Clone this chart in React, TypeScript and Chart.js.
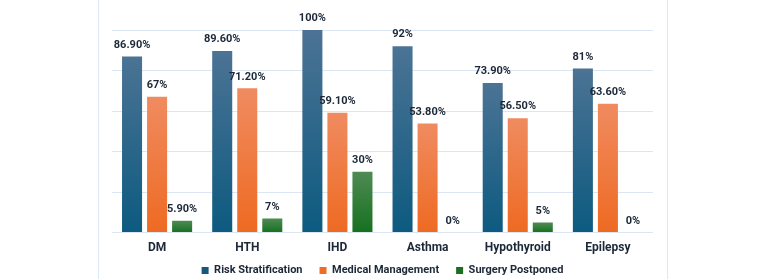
import React, { useEffect, useRef } from "react";
import { Chart, registerables } from "chart.js";

Chart.register(...registerables);

const categories = ["DM", "HTH", "IHD", "Asthma", "Hypothyroid", "Epilepsy"];
const riskStratification = [86.9, 89.6, 100, 92, 73.9, 81];
const medicalManagement = [67, 71.2, 59.1, 53.8, 56.5, 63.6];
const surgeryPostponed = [5.9, 7, 30, 0, 5, 0];
const riskLabels = ["86.90%", "89.60%", "100%", "92%", "73.90%", "81%"];
const medicalLabels = ["67%", "71.20%", "59.10%", "53.80%", "56.50%", "63.60%"];
const surgeryLabels = ["5.90%", "7%", "30%", "0%", "5%", "0%"];

const FONT = "Roboto, 'Noto Sans', sans-serif";
const TEXT = "#1c2838";

// Vertical gradient per bar, from the bar's top down to the zero line
function barGradient(top: string, bottom: string) {
  return (ctx: any) => {
    const chart = ctx.chart;
    const ys = chart.scales?.y;
    if (!ys || ctx.raw == null) return bottom;
    const yTop = ys.getPixelForValue(ctx.raw);
    const yBase = ys.getPixelForValue(0);
    if (!isFinite(yTop) || !isFinite(yBase) || yBase - yTop < 1) return bottom;
    const g = chart.ctx.createLinearGradient(0, yTop, 0, yBase);
    g.addColorStop(0, top);
    g.addColorStop(1, bottom);
    return g;
  };
}

const valueLabelPlugin = {
  id: "valueLabels",
  afterDatasetsDraw(chart: any) {
    const c = chart.ctx;
    c.save();
    c.font = `700 11px ${FONT}`;
    c.fillStyle = TEXT;
    c.textAlign = "center";
    c.textBaseline = "bottom";
    chart.data.datasets.forEach((ds: any, di: number) => {
      const meta = chart.getDatasetMeta(di);
      meta.data.forEach((bar: any, i: number) => {
        c.fillText(ds.valueLabels[i], bar.x, bar.y - 6);
      });
    });
    c.restore();
  },
};

// Keep the legend's reserved strip short while its items stay widely spaced
const LEGEND_HEIGHT = 16;
const LEGEND_SHIFT = -15;
const compactLegendPlugin = {
  id: "compactLegend",
  beforeInit(chart: any) {
    const legend = chart.legend;
    if (!legend) return;
    const fit = legend.fit.bind(legend);
    legend.fit = function () {
      fit();
      this.height = LEGEND_HEIGHT;
    };
  },
  afterLayout(chart: any) {
    const legend = chart.legend;
    if (!legend) return;
    legend.top += LEGEND_SHIFT;
    legend.bottom = chart.height;
    legend.height = legend.bottom - legend.top;
  },
};

export default function App() {
  const ref = useRef<HTMLCanvasElement>(null);

  useEffect(() => {
    if (!ref.current) return;
    const chart = new Chart(ref.current, {
      type: "bar",
      data: {
        labels: categories,
        datasets: [
          {
            label: "Risk Stratification",
            data: riskStratification,
            valueLabels: riskLabels,
            backgroundColor: barGradient("#4b7394", "#0d5a80"),
          } as any,
          {
            label: "Medical Management",
            data: medicalManagement,
            valueLabels: medicalLabels,
            backgroundColor: barGradient("#f08b60", "#ee6a22"),
          } as any,
          {
            label: "Surgery Postponed",
            data: surgeryPostponed,
            valueLabels: surgeryLabels,
            backgroundColor: barGradient("#4f8b53", "#16701f"),
          } as any,
        ],
      },
      options: {
        animation: false,
        responsive: false,
        maintainAspectRatio: false,
        datasets: { bar: { categoryPercentage: 0.833, barPercentage: 0.8 } },
        layout: { padding: { top: 30, left: 13, right: 14, bottom: 0 } },
        scales: {
          x: {
            grid: { display: false, drawTicks: false },
            border: { display: false },
            ticks: {
              color: TEXT,
              font: { family: FONT, size: 12, weight: "bold" },
              padding: 8,
            },
          },
          y: {
            min: 0,
            max: 100,
            ticks: { display: false, stepSize: 20 },
            grid: { color: "#dae6f3", lineWidth: 1, drawTicks: false },
            border: { display: false },
          },
        },
        plugins: {
          legend: {
            position: "bottom",
            labels: {
              boxWidth: 7,
              boxHeight: 7,
              padding: 17,
              color: TEXT,
              font: { family: FONT, size: 11, weight: "bold" },
              generateLabels: (ch: any) =>
                ch.data.datasets.map((ds: any, i: number) => ({
                  text: ds.label,
                  fillStyle: ["#16587c", "#ee6d27", "#1b6f24"][i],
                  strokeStyle: "rgba(0,0,0,0)",
                  lineWidth: 0,
                  fontColor: TEXT,
                  datasetIndex: i,
                  hidden: false,
                })),
            },
          },
          tooltip: { enabled: false },
        },
      },
      plugins: [valueLabelPlugin, compactLegendPlugin],
    });
    return () => chart.destroy();
  }, []);

  return (
    <div
      style={{
        position: "fixed",
        left: 0,
        top: 0,
        width: 779,
        height: 279,
        background: "#ffffff",
      }}
    >
      <div
        style={{
          position: "absolute",
          left: 98,
          top: 0,
          width: 570,
          height: 279,
          boxSizing: "border-box",
          borderLeft: "1px solid #dce8f5",
          borderRight: "1px solid #dce8f5",
        }}
      >
        <canvas ref={ref} width={568} height={279} style={{ display: "block" }} />
      </div>
    </div>
  );
}
